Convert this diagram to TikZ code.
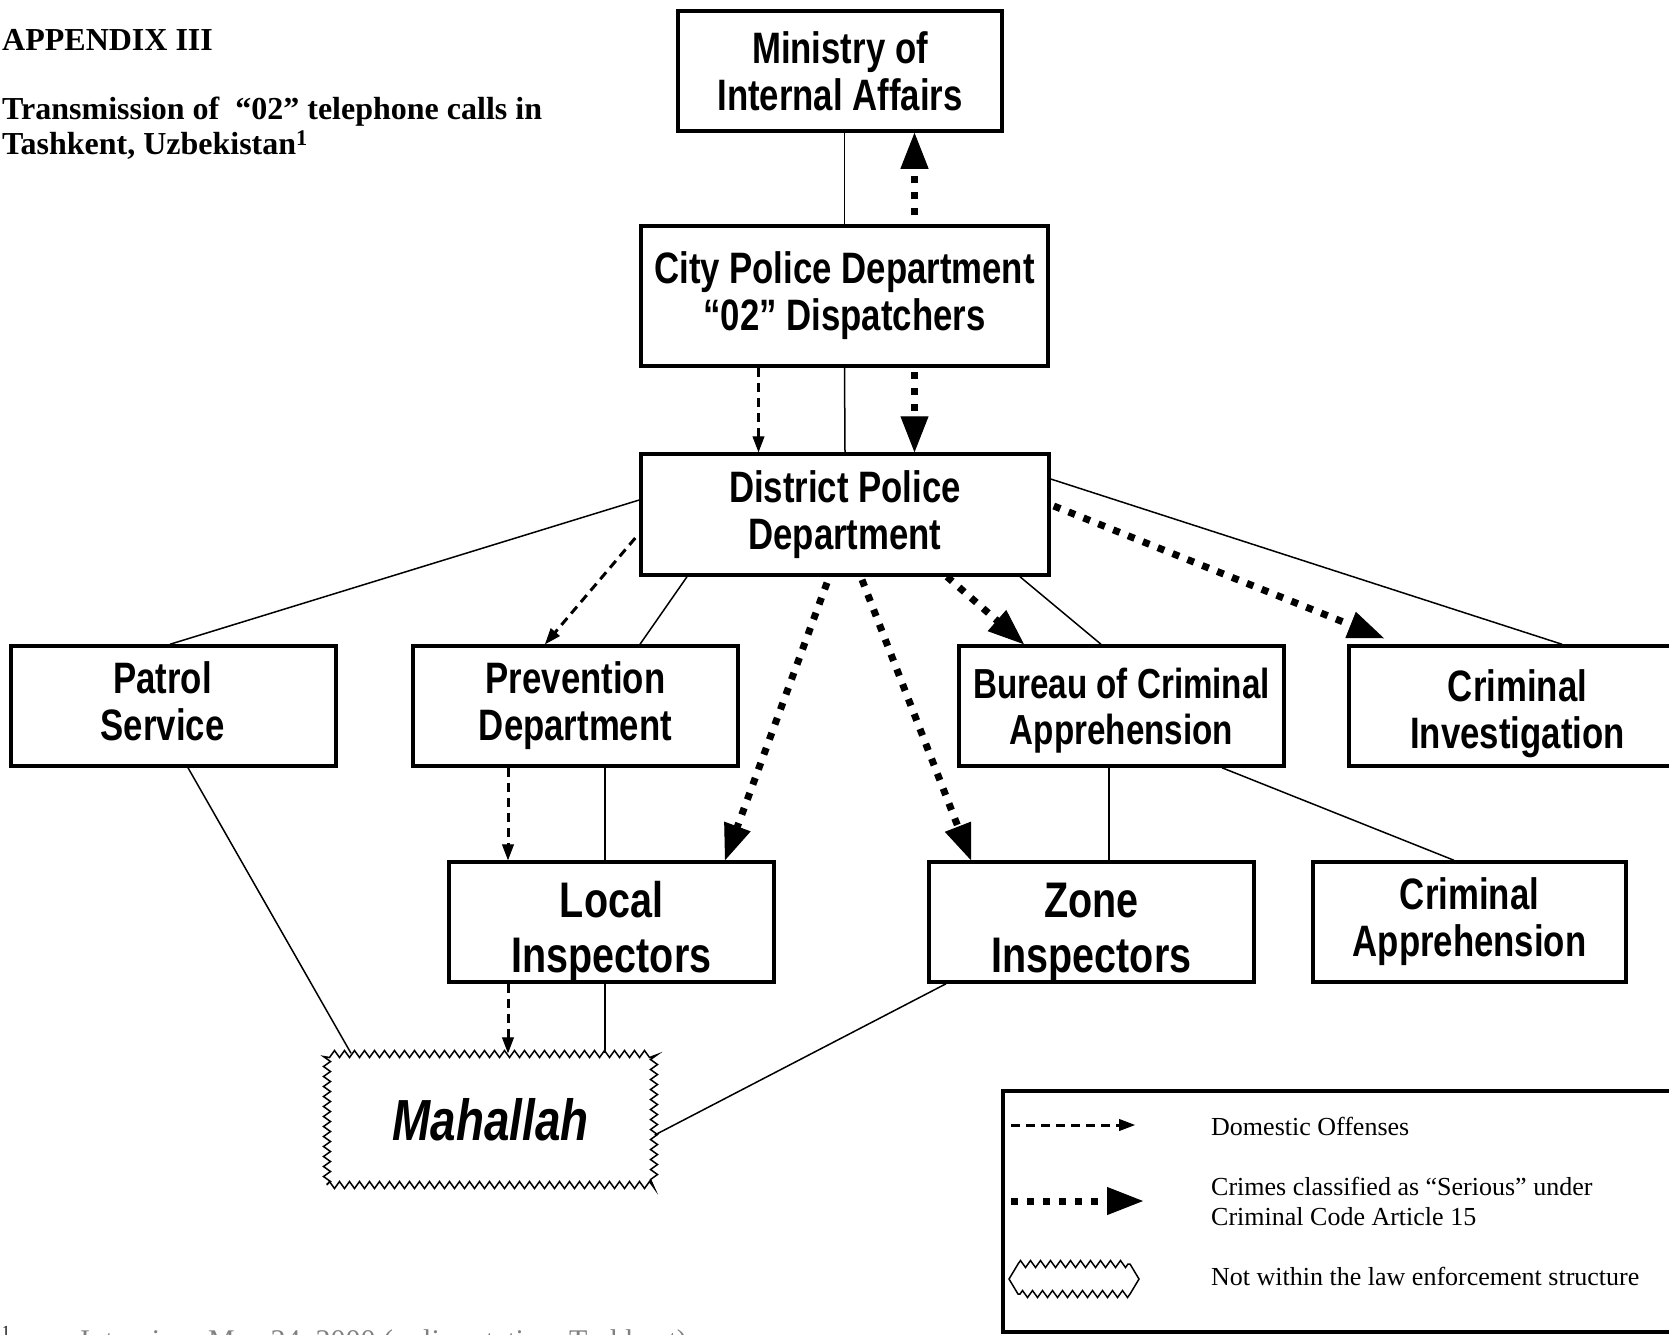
\documentclass[tikz,border=0pt]{standalone}
\usepackage{fontspec}
\setmainfont{Liberation Serif}
\newfontfamily\boxfont[FakeStretch=0.79]{Liberation Sans}
\usetikzlibrary{arrows.meta, decorations.pathmorphing}
% box text moved off the centre of its box
\newcommand\boxlines[3]{\smash{\raisebox{#2}{\hspace*{#1}\begin{tabular}{@{}c@{}}#3\end{tabular}}}}

\begin{document}
\begin{tikzpicture}[x=1pt, y=-1pt,
        box/.style={draw, line width=3.5pt, minimum width=325pt, minimum height=120pt,
            inner sep=0pt, align=center, font=\boxfont\bfseries\fontsize{44}{47}\selectfont},
        bigbox/.style={box, font=\boxfont\bfseries\fontsize{50}{55}\selectfont},
        outside/.style={draw, line width=1.5pt, decorate,
            decoration={zigzag, segment length=10pt, amplitude=3.5pt}},
        link/.style={line width=1.5pt},
        domestic/.style={line width=3pt, dash pattern=on 9pt off 6pt,
            -{Triangle[length=16pt, width=12pt, line width=1pt]}},
        serious/.style={line width=7pt, dash pattern=on 7pt off 9pt,
            -{Triangle[length=36pt, width=28pt, line width=1pt]}},
        legtext/.style={anchor=west, align=left, inner sep=0pt, font=\fontsize{26}{30}\selectfont}
    ]
    \useasboundingbox (0,0) rectangle (1669,1334);

    % heading
    \node [anchor=west, inner sep=0pt, font=\bfseries\fontsize{32}{35}\selectfont] (appendix) at (2,40) {APPENDIX III};
    \node [anchor=west, align=left, inner sep=0pt, font=\bfseries\fontsize{32}{35}\selectfont] (caption) at (2,128.5)
        {Transmission of \ “02” telephone calls in\\Tashkent, Uzbekistan\textsuperscript{1}};
    \node [anchor=north west, inner sep=0pt, font=\fontsize{22}{24}\selectfont] (fnmark) at (2,1326) {\textsuperscript{1}};
    \node [anchor=north west, inner sep=0pt, text=gray, font=\fontsize{30}{34}\selectfont] (fntext) at (80,1329)
        {Interview, May 24, 2000 (police station, Tashkent)};

    % boxes
    \node [box, minimum width=324pt] (min) at (840,71) {Ministry of\\Internal Affairs};
    \node [box, minimum width=407pt, minimum height=140pt] (city) at (844.5,296) {City Police Department\\“02” Dispatchers};
    \node [box, minimum width=408pt, minimum height=121pt] (dist) at (845,514.5) {District Police\\Department};
    \node [box] (patrol) at (173.5,706) {\boxlines{-22pt}{-8pt}{Patrol\\Service}};
    \node [box] (prev) at (575.5,706) {Prevention\\Department};
    \node [box, font=\boxfont\bfseries\fontsize{42}{46}\selectfont] (bureau) at (1121.5,706)
        {\boxlines{0pt}{-12.5pt}{Bureau of Criminal\\Apprehension}};
    \node [box, minimum width=337pt] (crinv) at (1517.5,706) {\boxlines{0pt}{-16pt}{Criminal\\Investigation}};
    \node [bigbox] (local) at (611.5,922) {\boxlines{0pt}{-18pt}{Local\\Inspectors}};
    \node [bigbox] (zone) at (1091.5,922) {\boxlines{0pt}{-18pt}{Zone\\Inspectors}};
    \node [box, minimum width=313pt] (crapp) at (1469.5,922) {Criminal\\Apprehension};
    \node [outside, minimum width=327pt, minimum height=131pt,
        font=\boxfont\bfseries\itshape\fontsize{58}{60}\selectfont] (mah) at (490.5,1119.5) {Mahallah};

    % plain links
    \draw [link] ([xshift=4.5pt]min.south) -- (city.north);
    \draw [link] (city.south) -- (dist.north);
    \draw [link] ([yshift=14.5pt]dist.west) -- ([xshift=-3.5pt]patrol.north);
    \draw [link] ([xshift=-158pt]dist.south) -- ([xshift=64.5pt]prev.north);
    \draw [link] ([xshift=175pt]dist.south) -- ([xshift=-20.5pt]bureau.north);
    \draw [link] ([yshift=35.5pt]dist.east) -- ([xshift=44.5pt]crinv.north);
    \draw [link] ([xshift=14.5pt]patrol.south) -- ([xshift=-139.5pt]mah.north);
    \draw [link] ([xshift=29.5pt]prev.south) -- ([xshift=-6.5pt]local.north);
    \draw [link] ([xshift=-6.5pt]local.south) -- ([xshift=114.5pt]mah.north);
    \draw [link] ([xshift=-12.5pt]bureau.south) -- ([xshift=17.5pt]zone.north);
    \draw [link] ([xshift=100.5pt]bureau.south) -- ([xshift=-15.5pt]crapp.north);
    \draw [link] ([xshift=-145.5pt]zone.south) -- ([yshift=-15.5pt]mah.east);

    % domestic offenses
    \draw [domestic] ([xshift=-86pt]city.south) -- ([xshift=-86.5pt]dist.north);
    \draw [domestic] ([xshift=-4pt,yshift=-23.5pt]dist.west) -- ([xshift=-30.5pt]prev.north);
    \draw [domestic] ([xshift=-67.5pt]prev.south) -- ([xshift=-103.5pt]local.north);
    \draw [domestic] ([xshift=-103.5pt]local.south) -- ([xshift=17.5pt]mah.north);

    % serious crimes
    \draw [serious] ([xshift=70pt,yshift=9pt]city.north) -- ([xshift=74.5pt]min.south);
    \draw [serious] ([xshift=70pt,yshift=-4pt]city.south) -- ([xshift=69.5pt]dist.north);
    \draw [serious] ([xshift=-18pt,yshift=-6pt]dist.south) -- ([xshift=113.5pt]local.north);
    \draw [serious] ([xshift=17pt,yshift=-3pt]dist.south) -- ([xshift=-120.5pt]zone.north);
    \draw [serious] ([xshift=102pt]dist.south) -- ([xshift=-97.5pt]bureau.north);
    \draw [serious] ([xshift=3pt,yshift=8.5pt]dist.east) -- ([xshift=-133.5pt,yshift=6pt]crinv.north);

    % legend
    \node [draw, line width=3.5pt, anchor=north west, minimum width=700pt, minimum height=241pt] (legend) at (1001,1089) {};
    \coordinate (dom a) at (1011,1125);
    \coordinate (dom b) at (1135,1125);
    \draw [domestic] (dom a) -- (dom b);
    \node [legtext] (domtext) at (1211,1126) {Domestic Offenses};
    \coordinate (ser a) at (1011,1201);
    \coordinate (ser b) at (1143,1201);
    \draw [serious] (ser a) -- (ser b);
    \node [legtext] (sertext) at (1211,1201) {Crimes classified as “Serious” under\\Criminal Code Article 15};
    \coordinate (zig) at (1074,1279);
    \draw [line width=1.5pt, line join=miter]
        ([shift={(-65,0)}]zig) -- ([shift={(-56,-15)}]zig)
        decorate [decoration={zigzag, segment length=10pt, amplitude=3.5pt}] { -- ([shift={(56,-15)}]zig) }
        -- ([shift={(65,0)}]zig) -- ([shift={(56,15)}]zig)
        decorate [decoration={zigzag, segment length=10pt, amplitude=3.5pt}] { -- ([shift={(-56,15)}]zig) }
        -- cycle;
    \node [legtext] (zigtext) at (1211,1276) {Not within the law enforcement structure};
\end{tikzpicture}
\end{document}
